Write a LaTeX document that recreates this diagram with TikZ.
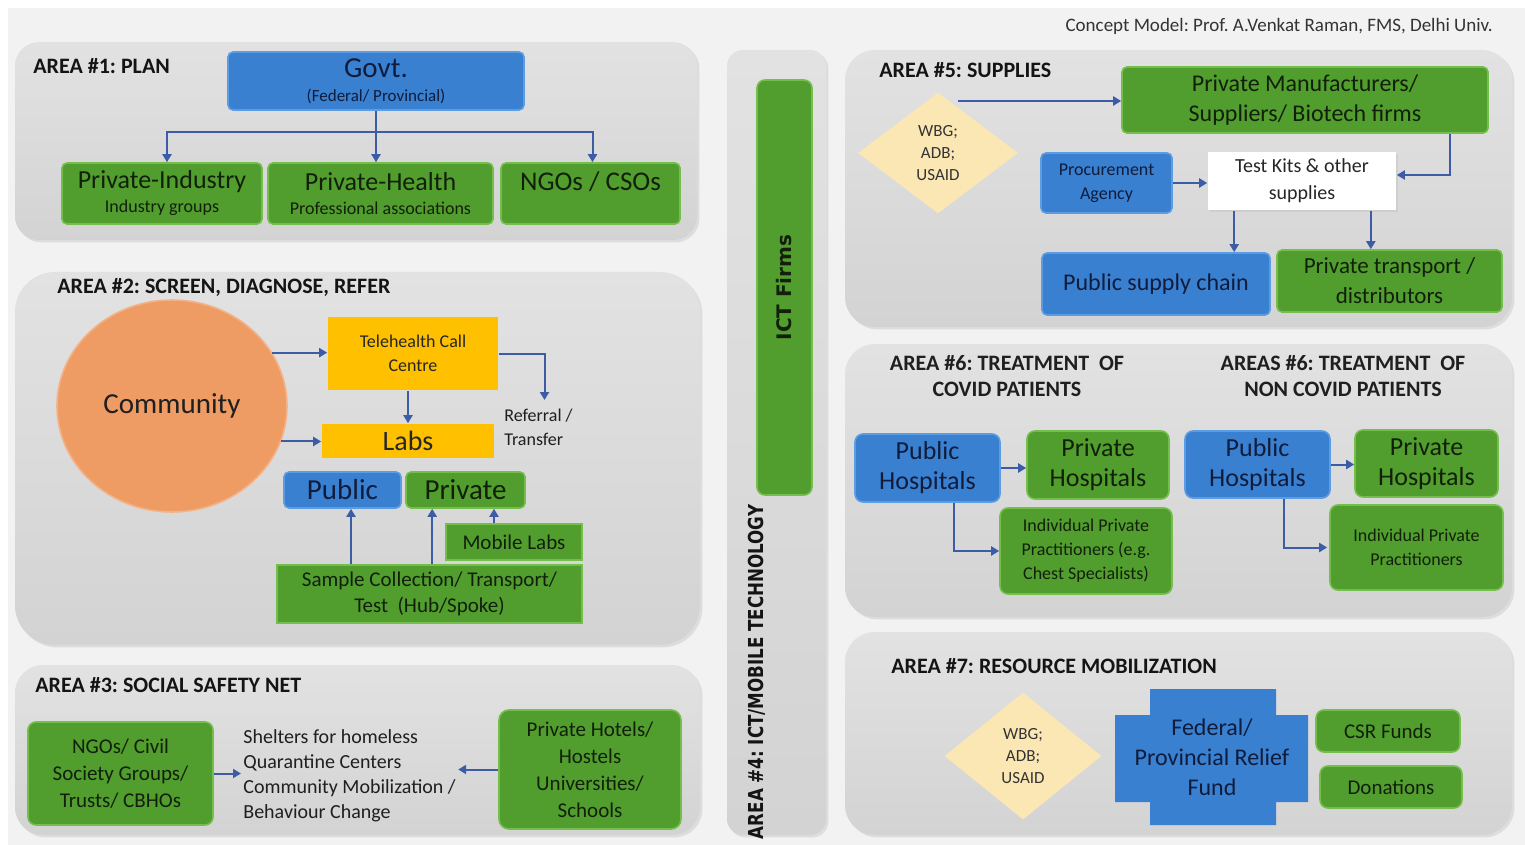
\documentclass[tikz,border=0pt]{standalone}
\usepackage{fontspec}
\setmainfont{Carlito}
\newfontfamily\vfont{DejaVu Sans}
\usetikzlibrary{arrows.meta,shapes.geometric,shadows,calc}
\frenchspacing
\definecolor{bgc}{HTML}{F2F2F2}
\definecolor{pantop}{HTML}{E2E2E2}
\definecolor{panbot}{HTML}{D3D3D3}
\definecolor{gfill}{HTML}{519D2E}
\definecolor{gdraw}{HTML}{74BE4C}
\definecolor{bfill}{HTML}{3A80D0}
\definecolor{bdraw}{HTML}{5C9CE2}
\definecolor{btext}{HTML}{0F1C3C}
\definecolor{gtext}{HTML}{12200B}
\definecolor{yfill}{HTML}{FFC000}
\definecolor{ofill}{HTML}{EF9C64}
\definecolor{odraw}{HTML}{F3B388}
\definecolor{cream}{HTML}{FBE7B4}
\definecolor{arrc}{HTML}{3C5DA6}
\newcommand\fs[2]{\fontsize{#1}{#2}\selectfont}
\newcommand\bx[7]{%
  \pgfmathsetmacro\bxcx{(#3+#5)/2}\pgfmathsetmacro\bxcy{(#4+#6)/2}%
  \pgfmathsetmacro\bxw{(#5-#3)/2}\pgfmathsetmacro\bxh{(#6-#4)/2}%
  \node[#2,minimum width=\bxw pt,minimum height=\bxh pt] (#1) at (\bxcx,\bxcy) {#7};}
\tikzset{
  panel/.style={shape=rectangle, inner sep=0pt, top color=pantop, bottom color=panbot, draw=none,
    drop shadow={opacity=0.18, shadow xshift=1.2pt, shadow yshift=-1.2pt}},
  base/.style={shape=rectangle, rounded corners=2.5pt, inner sep=0pt, align=center, line width=0.8pt},
  gbox/.style={base, fill=gfill, draw=gdraw, text=gtext},
  bbox/.style={base, fill=bfill, draw=bdraw, text=btext},
  ybox/.style={base, fill=yfill, draw=none, rounded corners=0pt, text=black!85},
  wbox/.style={base, fill=white, draw=none, rounded corners=0pt, text=black!85,
    drop shadow={opacity=0.12, shadow xshift=1pt, shadow yshift=-1pt}},
  dmd/.style={shape=diamond, fill=cream, draw=none, inner sep=0pt, align=center, text=black!80,
    font=\fs{8.5}{11}},
  arr/.style={draw=arrc, line width=1pt, -{Triangle[length=4pt,width=4.5pt]}},
  ttl/.style={font=\bfseries\fs{11}{13}, anchor=west, inner sep=0pt, text=black!92},
  plain/.style={inner sep=0pt, text=black!88}
}
\begin{document}
\begin{tikzpicture}[x=0.5pt,y=-0.5pt]
\path[use as bounding box, fill=bgc] (0,0) rectangle (1525,845);
\fill[white] (0,0) rectangle (1525,8);
\fill[white] (0,0) rectangle (8,845);

% ---------- panels ----------
\bx{p1}{panel, rounded corners=12pt}{15}{42}{697}{240}{}
\bx{p2}{panel, rounded corners=20pt}{15}{272}{700}{645}{}
\bx{p3}{panel, rounded corners=14pt}{15}{665}{700}{835}{}
\bx{p4}{panel, rounded corners=8pt}{727}{50}{826}{835}{}
\bx{p5}{panel, rounded corners=15pt}{845}{50}{1512}{327}{}
\bx{p6}{panel, rounded corners=15pt}{845}{344}{1512}{617}{}
\bx{p7}{panel, rounded corners=15pt}{845}{632}{1512}{835}{}

\node[plain, anchor=east, font=\fs{9.5}{11}, text=black!80] (concept) at (1493,26) {Concept Model: Prof. A.Venkat Raman, FMS, Delhi Univ.};

% ---------- AREA 1 ----------
\node[ttl] (t1) at (33,66) {AREA \#1: PLAN};
\bx{govt}{bbox}{228}{52}{524}{110}{{\fs{14.5}{16}Govt.}\\[0pt]{\fs{8.5}{10}(Federal/ Provincial)}}
\bx{pind}{gbox}{62}{163}{262}{224}{{\fs{13}{15}Private-Industry}\\[0pt]{\fs{9}{10}Industry groups}}
\bx{phlth}{gbox}{268}{163}{493}{224}{{\fs{13}{15}Private-Health}\\[0pt]{\fs{9}{10}Professional associations}}
\bx{ngo}{gbox}{501}{163}{680}{224}{{\fs{13.5}{15}NGOs / CSOs}\\[0pt]{\fs{9}{10}\mbox{}}}
\coordinate (j1) at ($(govt.south)+(0,21)$);
\draw[arr] (govt.south) -- (govt.south |- phlth.north);
\draw[arr] (j1) -| ([xshift=2.5pt]pind.north);
\draw[arr] (j1) -| ([xshift=1pt]ngo.north);

% ---------- AREA 2 ----------
\node[ttl] (t2) at (57,287) {AREA \#2: SCREEN, DIAGNOSE, REFER};
\node[ellipse, fill=ofill, draw=odraw, line width=0.8pt, minimum width=115pt, minimum height=106pt,
  inner sep=0pt, font=\fs{14.5}{16}, text=black!88] (comm) at (172,406) {Community};
\bx{tele}{ybox, font=\fs{9}{12}}{328}{317}{498}{390}{Telehealth Call\\Centre}
\bx{labs}{ybox, font=\fs{14}{16}}{322}{424}{494}{458}{Labs}
\bx{pubL}{bbox, font=\fs{14.5}{16}}{284}{472}{401}{508}{Public}
\bx{privL}{gbox, font=\fs{14.5}{16}}{406}{472}{525}{508}{Private}
\bx{mob}{gbox, rounded corners=0pt, font=\fs{10.5}{12}}{446}{524}{582}{560}{Mobile Labs}
\bx{samp}{gbox, rounded corners=0pt, font=\fs{10.5}{13}}{277}{565}{582}{623}{Sample Collection/ Transport/\\Test~~(Hub/Spoke)}
\node[plain, anchor=north west, align=left, font=\fs{9}{12}] (refer) at (504,409) {Referral /\\Transfer};
\draw[arr] (comm.28.6) -- (comm.28.6 -| tele.west);
\draw[arr] (comm.-18.4) -- (comm.-18.4 -| labs.west);
\draw[arr] (labs.north |- tele.south) -- (labs.north);
\coordinate (rf) at ([xshift=3pt, yshift=4.5pt]refer.north);
\draw[arr] (tele.east) -| (rf);
\coordinate (a1) at ([xshift=4.25pt]pubL.south);
\coordinate (a2) at ([xshift=13.5pt]privL.south west);
\coordinate (a3) at ([xshift=-10pt]mob.north);
\draw[arr] (a1 |- samp.north) -- (a1);
\draw[arr] (a2 |- samp.north) -- (a2);
\draw[arr] (a3) -- (a3 |- privL.south);

% ---------- AREA 3 ----------
\node[ttl] (t3) at (35,685) {AREA \#3: SOCIAL SAFETY NET};
\bx{ngo3}{gbox, rounded corners=4pt, font=\fs{10.5}{13.5}}{28}{722}{213}{825}{NGOs/ Civil\\Society Groups/\\Trusts/ CBHOs}
\bx{hotel}{gbox, rounded corners=5pt, font=\fs{10.5}{13.5}}{499}{710}{681}{829}{Private Hotels/\\Hostels\\Universities/\\Schools}
\node[plain, anchor=west, align=left, font=\fs{10}{12.5}] (shelt) at (243,776)
  {Shelters for homeless\\Quarantine Centers\\Community Mobilization /\\Behaviour Change};
\draw[arr] (ngo3.east) -- ([xshift=-1pt]ngo3.east -| shelt.west);
\draw[arr] (hotel.west) -- ([xshift=1pt]hotel.west -| shelt.east);

% ---------- AREA 4 ----------
\bx{ict}{gbox, rounded corners=4pt}{757}{80}{812}{495}{\rotatebox{90}{\vfont\bfseries\fs{10}{12}ICT Firms}}
\node[plain, text=black!92] (t4) at (757,672) {\rotatebox{90}{\scalebox{0.81}[1]{\vfont\bfseries\fs{10.3}{12}AREA \#4: ICT/MOBILE TECHNOLOGY}}};

% ---------- AREA 5 ----------
\node[ttl] (t5) at (879,70) {AREA \#5: SUPPLIES};
\node[dmd, minimum width=80pt, minimum height=60.5pt] (wbg1) at (938,153) {WBG;\\ADB;\\USAID};
\bx{pm}{gbox, font=\fs{12}{15}}{1122}{67}{1488}{133}{Private Manufacturers/\\Suppliers/ Biotech firms}
\bx{proc}{bbox, font=\fs{9}{12}}{1041}{153}{1172}{213}{Procurement\\Agency}
\bx{tk}{wbox, font=\fs{10}{13.5}}{1208}{152}{1396}{210}{Test Kits \& other\\supplies}
\bx{psc}{bbox, font=\fs{12}{14}}{1042}{253}{1270}{315}{Public supply chain}
\bx{ptr}{gbox, font=\fs{11.5}{15}}{1277}{250}{1502}{312}{Private transport /\\distributors}
\coordinate (w1) at (958,101);
\draw[arr] (w1) -- (w1 -| pm.west);
\draw[arr] ([xshift=-19.5pt]pm.south east) |- ([yshift=3pt]tk.east);
\draw[arr] (proc.east) -- (proc.east -| tk.west);
\coordinate (b1) at ([xshift=13.5pt]tk.south west);
\coordinate (b2) at ([xshift=-13pt]tk.south east);
\draw[arr] (b1) -- (b1 |- psc.north);
\draw[arr] (b2) -- (b2 |- ptr.north);

% ---------- AREA 6 ----------
\node[plain, align=center, font=\bfseries\fs{11}{13}] (t6a) at (1007,376) {AREA \#6: TREATMENT~~OF\\COVID PATIENTS};
\node[plain, align=center, font=\bfseries\fs{11}{13}] (t6b) at (1343,376) {AREAS \#6: TREATMENT~~OF\\NON COVID PATIENTS};
\bx{pub1}{bbox, rounded corners=4pt, font=\fs{13}{15}}{855}{434}{1000}{502}{Public\\Hospitals}
\bx{priv1}{gbox, rounded corners=4pt, font=\fs{13}{15}}{1027}{431}{1169}{499}{Private\\Hospitals}
\bx{ipp1}{gbox, rounded corners=4pt, font=\fs{9}{12}}{1000}{508}{1172}{594}{Individual Private\\Practitioners (e.g.\\Chest Specialists)}
\bx{pub2}{bbox, rounded corners=4pt, font=\fs{13}{15}}{1185}{431}{1330}{498}{Public\\Hospitals}
\bx{priv2}{gbox, rounded corners=4pt, font=\fs{13}{15}}{1355}{430}{1498}{497}{Private\\Hospitals}
\bx{ipp2}{gbox, rounded corners=4pt, font=\fs{9}{12}}{1330}{505}{1503}{590}{Individual Private\\Practitioners}
\draw[arr] (pub1.east) -- (pub1.east -| priv1.west);
\draw[arr] ([xshift=13.25pt]pub1.south) |- (ipp1.west);
\draw[arr] (pub2.east) -- (pub2.east -| priv2.west);
\draw[arr] ([xshift=13.25pt]pub2.south) |- ([xshift=-1pt]ipp2.west);

% ---------- AREA 7 ----------
\node[ttl] (t7) at (891,666) {AREA \#7: RESOURCE MOBILIZATION};
\node[dmd, minimum width=78.5pt, minimum height=63.5pt] (wbg2) at (1023,756) {WBG;\\ADB;\\USAID};
\fill[bfill] (1150,689) -- (1276,689) -- (1276,715) -- (1308,715) -- (1308,802) -- (1276,802)
  -- (1276,825) -- (1150,825) -- (1150,802) -- (1115,802) -- (1115,715) -- (1150,715) -- cycle;
\node[plain, align=center, text=btext, font=\fs{12}{15}] (fund) at (1212,757) {Federal/\\Provincial Relief\\Fund};
\bx{csr}{gbox, rounded corners=4pt, font=\fs{10.5}{12}}{1316}{710}{1460}{752}{CSR Funds}
\bx{don}{gbox, rounded corners=4pt, font=\fs{10.5}{12}}{1320}{766}{1462}{808}{Donations}
\end{tikzpicture}
\end{document}
